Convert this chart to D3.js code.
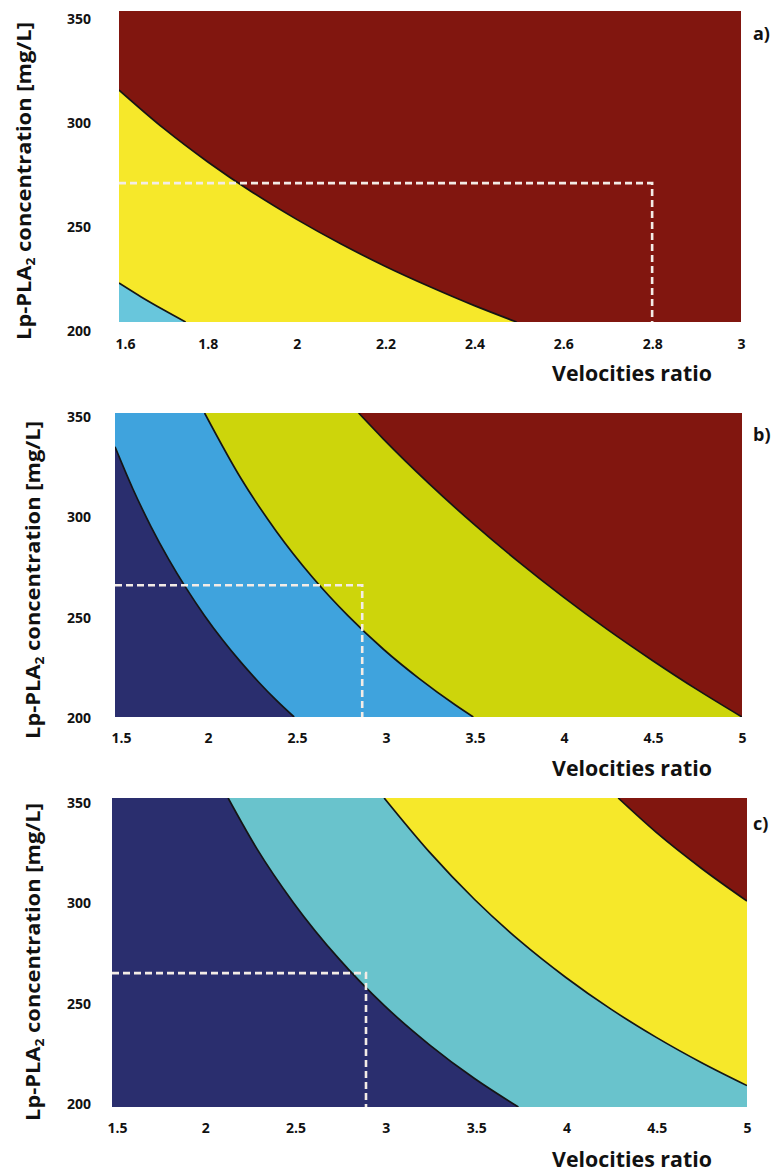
<!DOCTYPE html>
<html><head><meta charset="utf-8">
<script src="https://cdn.jsdelivr.net/npm/d3@7"></script>
<style>body{margin:0;background:#fff} svg{display:block}</style>
</head><body>
<svg id="chart" width="772" height="1172"></svg>
<script>
// ---------------- data ----------------
const yTicks = [200, 250, 300, 350];
const xTicksA = [1.6, 1.8, 2, 2.2, 2.4, 2.6, 2.8, 3];
const xTicksBC = [1.5, 2, 2.5, 3, 3.5, 4, 4.5, 5];
const xTickLabelsA = ["1.6", "1.8", "2", "2.2", "2.4", "2.6", "2.8", "3"];
const xTickLabelsBC = ["1.5", "2", "2.5", "3", "3.5", "4", "4.5", "5"];
const yTickLabels = ["200", "250", "300", "350"];
const yTitle = "Lp-PLA";
const xTitle = "Velocities ratio";
const panelTags = ["a)", "b)", "c)"];

// contour boundaries: [velocities ratio, Lp-PLA2 concentration]
const boundaryA0 = [[1.6,218.8],[1.65,212.1],[1.7,205.9],[1.75,200]];
const boundaryA1 = [[1.6,311.9],[1.7,293.5],[1.8,277.2],[1.9,262.6],[2.0,249.5],[2.1,237.6],[2.2,226.8],[2.3,217],[2.4,207.9],[2.495,200]];
const boundaryB0 = [[1.5,333.3],[1.6,312.5],[1.7,294.1],[1.8,277.8],[1.9,263.2],[2.0,250],[2.1,238.1],[2.2,227.3],[2.3,217.4],[2.4,208.3],[2.5,200]];
const boundaryB1 = [[2.0,350],[2.2,318.2],[2.4,291.7],[2.6,269.2],[2.8,250],[3.0,233.3],[3.2,218.8],[3.4,205.9],[3.5,200]];
const boundaryB2 = [[2.86,350],[3.0,337],[3.25,315.4],[3.5,295.4],[3.75,276.8],[4.0,259.4],[4.25,243.1],[4.5,227.9],[4.75,213.5],[5.0,200]];
const boundaryC0 = [[2.14,350],[2.3,325.2],[2.5,299.2],[2.75,272],[3.0,249.3],[3.25,230.2],[3.5,213.7],[3.74,200]];
const boundaryC1 = [[3.0,350],[3.25,323.7],[3.5,300.6],[3.75,280.5],[4.0,263],[4.25,247.5],[4.5,233.8],[4.75,221.5],[5.0,210.4]];
const boundaryC2 = [[4.29,350],[4.5,333.3],[4.75,315.8],[5.0,300]];

// dashed guide: [velocities ratio, concentration]
const guideA = [2.8, 267];
const guideB = [2.88, 265];
const guideC = [2.9, 265];

// ---------------- styles & layout ----------------
const COL = {
  red: "#81160f", yellow: "#f6e82a", yellowGreen: "#cdd50b",
  cyanA: "#68c6dc", blueB: "#3fa3dd", navy: "#2a2e6e", cyanC: "#69c3cc"
};
const panels = [
  { id: "a", xDomain: [1.6, 3], xTicks: xTicksA, xLabels: xTickLabelsA,
    boundaries: [boundaryA0, boundaryA1], colors: [COL.cyanA, COL.yellow, COL.red], guide: guideA,
    x0: 119, x1: 741, y0: 11, y1: 322,
    lblX: [119, 741], firstDx: 6, lblY: [335, 23.3], xLblBase: 349.3,
    titleX: 31, titleCY: 181, xTitleBase: 381, tagY: 40 },
  { id: "b", xDomain: [1.5, 5], xTicks: xTicksBC, xLabels: xTickLabelsBC,
    boundaries: [boundaryB0, boundaryB1, boundaryB2], colors: [COL.navy, COL.blueB, COL.yellowGreen, COL.red], guide: guideB,
    x0: 115, x1: 742, y0: 413, y1: 717,
    lblX: [119, 742], firstDx: 2, lblY: [722.3, 421.7], xLblBase: 742.7,
    titleX: 40, titleCY: 580, xTitleBase: 776, tagY: 441 },
  { id: "c", xDomain: [1.5, 5], xTicks: xTicksBC, xLabels: xTickLabelsBC,
    boundaries: [boundaryC0, boundaryC1, boundaryC2], colors: [COL.navy, COL.cyanC, COL.yellow, COL.red], guide: guideC,
    x0: 112, x1: 747, y0: 798, y1: 1107,
    lblX: [115, 747], firstDx: 2, lblY: [1108.3, 807.7], xLblBase: 1132.7,
    titleX: 40, titleCY: 962, xTitleBase: 1167, tagY: 830 }
];

const svg = d3.select("#chart");
const defs = svg.append("defs");
const FONT = "'Open Sans', 'Liberation Sans', sans-serif";

panels.forEach((p, pi) => {
  const x = d3.scaleLinear().domain(p.xDomain).range([p.x0, p.x1]);
  const y = d3.scaleLinear().domain([200, 350]).range([p.y1, p.y0]);
  const clipId = "clip-" + p.id;
  defs.append("clipPath").attr("id", clipId).append("rect")
    .attr("x", p.x0).attr("y", p.y0).attr("width", p.x1 - p.x0).attr("height", p.y1 - p.y0);
  const g = svg.append("g");
  const plot = g.append("g").attr("clip-path", `url(#${clipId})`);

  // top region background
  plot.append("rect").attr("x", x(p.xDomain[0])).attr("y", y(350))
    .attr("width", x(p.xDomain[1]) - x(p.xDomain[0])).attr("height", y(200) - y(350))
    .attr("fill", p.colors[p.colors.length - 1]);

  const line = d3.line().x(d => x(d[0])).y(d => y(d[1])).curve(d3.curveMonotoneX);

  for (let i = p.boundaries.length - 1; i >= 0; i--) {
    const pts = p.boundaries[i];
    const first = pts[0], last = pts[pts.length - 1];
    let d = `M${x(p.xDomain[0])},${y(200)}`;
    if (first[0] > p.xDomain[0]) d += `L${x(p.xDomain[0])},${y(350)}`;
    d += "L" + line(pts).slice(1);
    if (last[1] > 200) d += `L${x(last[0])},${y(200)}`;
    d += "Z";
    plot.append("path").attr("d", d).attr("fill", p.colors[i]);
  }
  p.boundaries.forEach(pts => {
    plot.append("path").attr("d", line(pts)).attr("fill", "none")
      .attr("stroke", "#151515").attr("stroke-width", 1.7);
  });

  // dashed guide
  const gv = p.guide[0], gc = p.guide[1];
  plot.append("path")
    .attr("d", d3.line().x(d => x(d[0])).y(d => y(d[1]))([[p.xDomain[0], gc], [gv, gc], [gv, 200]]))
    .attr("fill", "none").attr("stroke", "#f3ece6").attr("stroke-width", 2.6)
    .attr("stroke-dasharray", "7,4");

  // x tick labels
  const xl = d3.scaleLinear().domain(p.xDomain).range(p.lblX);
  const xAxis = g.append("g").attr("transform", `translate(0,${p.xLblBase})`)
    .call(d3.axisBottom(xl).tickValues(p.xTicks).tickSize(0).tickPadding(0)
      .tickFormat((d, i) => p.xLabels[i]));
  xAxis.select(".domain").remove();
  xAxis.selectAll("text").attr("y", 0).attr("dy", 0)
    .attr("dx", (d, i) => i === 0 ? p.firstDx : 0)
    .attr("font-family", FONT).attr("font-weight", 700).attr("font-size", 14).attr("fill", "#111");

  // y tick labels
  const yl = d3.scaleLinear().domain([200, 350]).range(p.lblY);
  const yAxis = g.append("g").attr("transform", `translate(91,0)`)
    .call(d3.axisLeft(yl).tickValues(yTicks).tickSize(0).tickPadding(0)
      .tickFormat((d, i) => yTickLabels[i]));
  yAxis.select(".domain").remove();
  yAxis.selectAll("text").attr("x", 0).attr("dy", 0)
    .attr("font-family", FONT).attr("font-weight", 700).attr("font-size", 14).attr("fill", "#111");

  // y title
  const yt = g.append("text").attr("text-anchor", "middle")
    .attr("font-family", FONT).attr("font-weight", 700).attr("font-size", 19).attr("fill", "#111");
  yt.append("tspan").text(yTitle);
  yt.append("tspan").text("2").attr("font-size", 12).attr("dy", 4);
  yt.append("tspan").text(" concentration [mg/L]").attr("dy", -4);
  const ylen = yt.node().getComputedTextLength();
  yt.attr("transform", `translate(${p.titleX},${p.titleCY}) rotate(-90) scale(${318 / ylen},1)`);

  // x title
  const xt = g.append("text").attr("text-anchor", "start")
    .attr("font-family", FONT).attr("font-weight", 700).attr("font-size", 22).attr("fill", "#111")
    .text(xTitle);
  const xlen = xt.node().getComputedTextLength();
  xt.attr("transform", `translate(552,${p.xTitleBase}) scale(${160 / xlen},1)`);

  // panel tag
  g.append("text").attr("x", 753).attr("y", p.tagY)
    .attr("font-family", FONT).attr("font-weight", 700).attr("font-size", 18).attr("fill", "#111")
    .text(panelTags[pi]);
});
</script>
</body></html>
